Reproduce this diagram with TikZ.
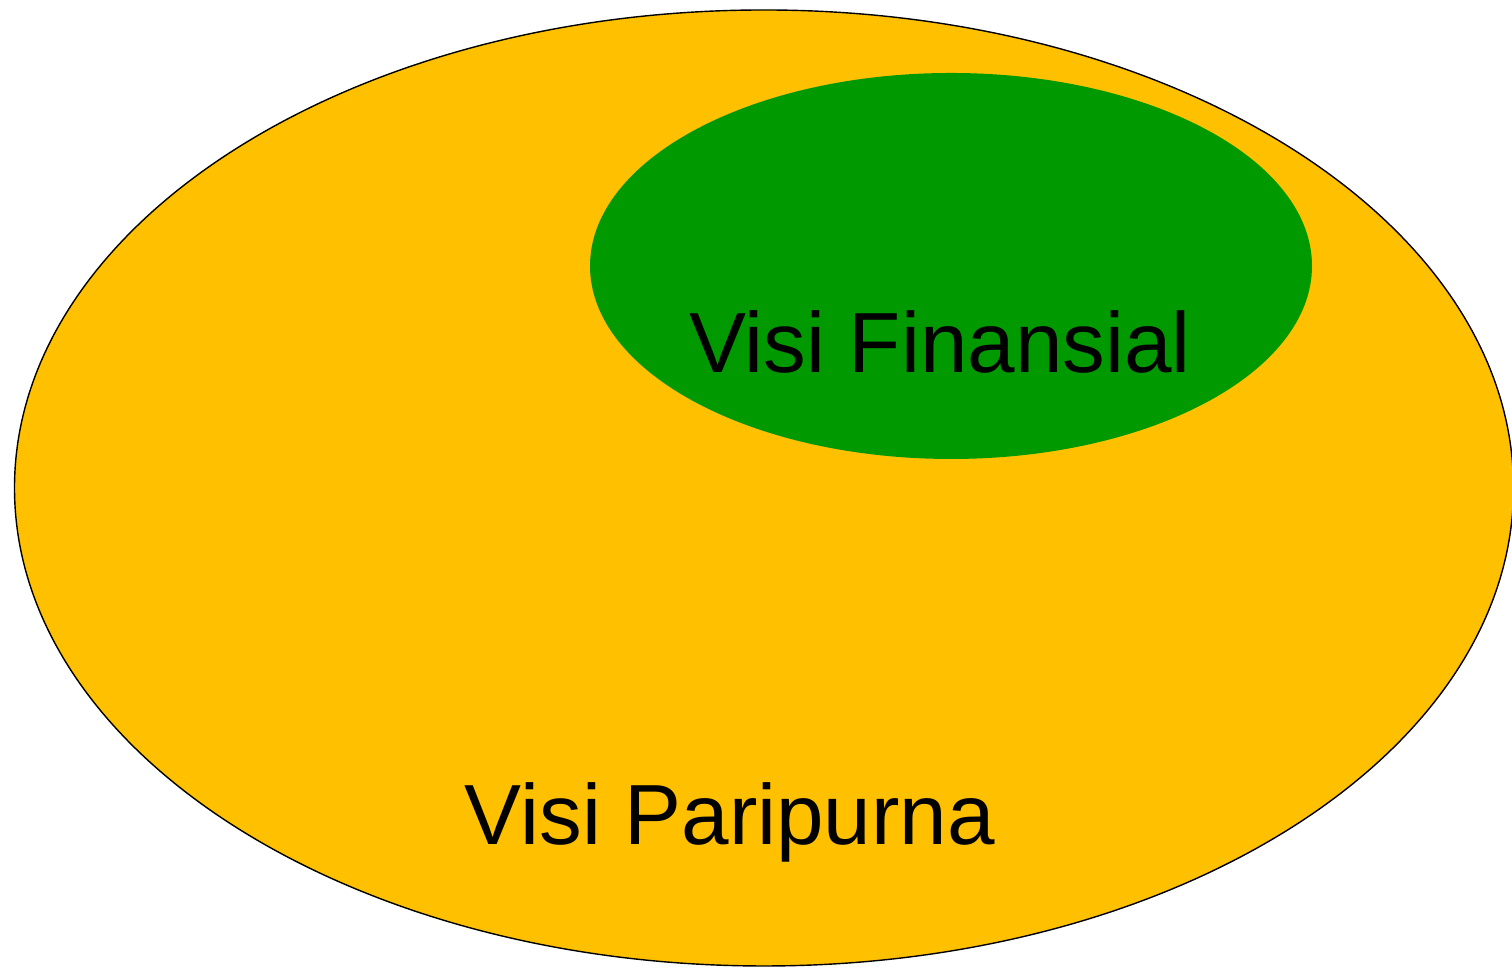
\documentclass[tikz,border=0pt]{standalone}
\usepackage{fontspec}
\setmainfont{Liberation Sans}
\usetikzlibrary{shapes.geometric}
\definecolor{visiyellow}{HTML}{FFC000}
\definecolor{visigreen}{HTML}{009900}
\tikzset{
    visiring/.style={ellipse, inner sep=0pt},
    visilabel/.style={anchor=base, inner sep=0pt, font=\fontsize{24.3}{28}\selectfont}
}
\begin{document}
\begin{tikzpicture}
        \useasboundingbox (0,0) rectangle (15.12,9.68);
        \node[visiring, draw=black, fill=visiyellow, minimum width=14.99cm, minimum height=9.56cm] (paripurna) at (7.64,4.80) {};
        \node[visiring, fill=visigreen, minimum width=7.22cm, minimum height=3.86cm] (finansial) at (9.51,7.02) {};
        \node[visilabel] (finansialtext) at (9.40,5.95) {Visi Finansial};
        \node[visilabel] (paripurnatext) at (7.30,1.23) {Visi Paripurna};
\end{tikzpicture}
\end{document}
